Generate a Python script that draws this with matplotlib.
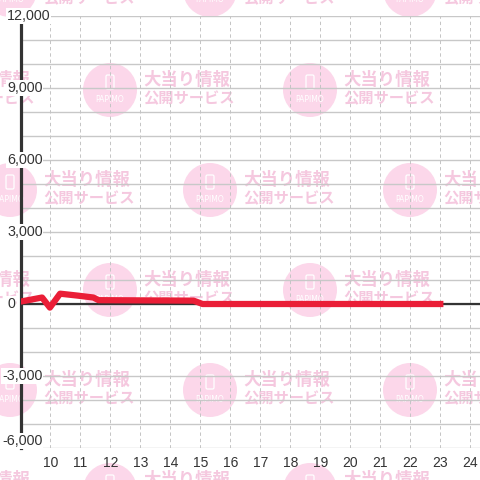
import matplotlib
matplotlib.use("Agg")
import matplotlib.pyplot as plt
from matplotlib.patches import Circle, FancyBboxPatch
from matplotlib.transforms import blended_transform_factory

# balance over the day (hour of day -> value)
hours = [9.0, 9.72, 9.98, 10.32, 10.9, 11.43, 11.6, 14.77, 15.07, 23.1]
balance = [100, 270, -150, 430, 350, 270, 160, 140, 0, 0]

x_ticks = list(range(10, 25))
y_ticks = [-6000, -3000, 0, 3000, 6000, 9000, 12000]
y_grid = list(range(-6000, 12001, 1000))

wm_line1 = "大当り情報"
wm_line2 = "公開サービス"
wm_logo = "PAPIMO"

plt.rcParams['font.family'] = ['Liberation Sans', 'DejaVu Sans']

W = H = 480
fig = plt.figure(figsize=(4.8, 4.8), dpi=100)
fig.patch.set_facecolor("white")

# watermark layer, pixel coords
bg = fig.add_axes([0, 0, 1, 1], zorder=0)
bg.set_xlim(0, W)
bg.set_ylim(H, 0)
bg.axis("off")
for k, cy in enumerate(range(-10, 500, 100)):
    xs = range(10, 500, 200) if k % 2 == 0 else range(-90, 520, 200)
    for cx in xs:
        bg.add_patch(Circle((cx, cy), 27, color="#fcd7ea", lw=0))
        bg.add_patch(FancyBboxPatch((cx - 4, cy - 15), 8, 14,
                                    boxstyle="round,pad=0,rounding_size=1.5",
                                    fill=False, ec="white", lw=0.9))
        bg.text(cx, cy + 9, wm_logo, ha="center", va="center", fontsize=5.5,
                color="white", family="DejaVu Sans")
        bg.text(cx + 33, cy - 10, wm_line1, ha="left", va="center", fontsize=12.5,
                color="#f5c8df", family=["Noto Sans CJK JP"], weight="bold")
        bg.text(cx + 33, cy + 8, wm_line2, ha="left", va="center", fontsize=11,
                color="#f5c8df", family=["Noto Sans CJK JP"], weight="bold")

ax = fig.add_axes([20.5 / W, (H - 448) / H, 459.5 / W, 432 / H], zorder=1)
ax.patch.set_alpha(0)
ax.set_xlim(9, 24.32)
ax.set_ylim(-6000, 12000)

for yv in y_grid:
    ax.axhline(yv, color="#c8c8c8", lw=1.0, zorder=1)
for xv in x_ticks:
    ax.axvline(xv, color="#c4c4c4", lw=0.7, ls=(0, (3.5, 3)), zorder=1)
ax.axhline(0, color="#333333", lw=1.6, zorder=2)

ax.plot(hours, balance, color="#ea1e37", lw=4.5, solid_capstyle="butt",
        solid_joinstyle="round", zorder=4)

for s in ["top", "right", "bottom"]:
    ax.spines[s].set_visible(False)
ax.spines["left"].set_color("#333333")
ax.spines["left"].set_linewidth(2.3)

ax.set_xticks(x_ticks)
ax.tick_params(axis="x", length=0, pad=6, labelsize=10, labelcolor="#333333")
ax.set_yticks([])

trans = blended_transform_factory(fig.transFigure, ax.transData)
for v in y_ticks:
    xpos = 2 / W if v < 0 else 7 / W
    va = "bottom" if v == y_ticks[0] else "center"
    ax.text(xpos, v, f"{v:,}", transform=trans, ha="left", va=va, fontsize=10.3,
            color="#333333", zorder=5, clip_on=False,
            bbox=dict(fc="white", ec="none", pad=0.5))

fig.savefig("out.png", dpi=100)
